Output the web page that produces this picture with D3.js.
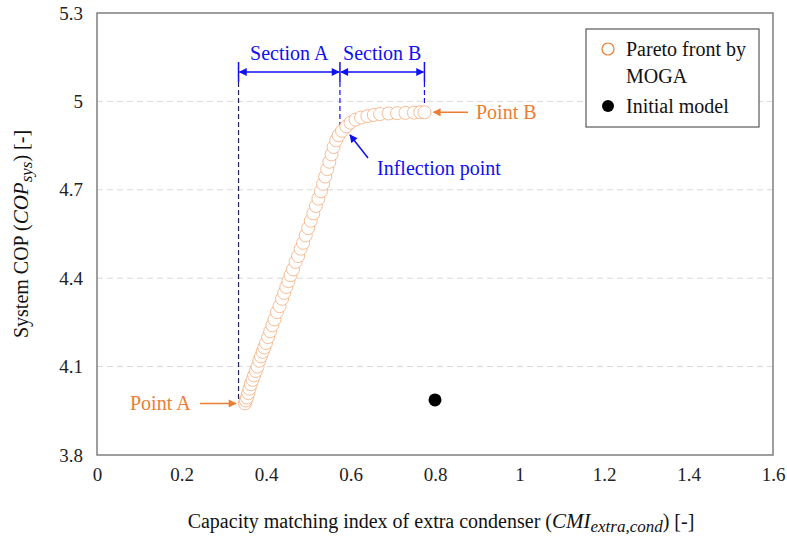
<!DOCTYPE html>
<html>
<head>
<meta charset="utf-8">
<script src="https://cdn.jsdelivr.net/npm/d3@7"></script>
<style>
  body { margin: 0; background: #fff; }
</style>
</head>
<body>
<div id="chart"></div>
<script>
// Pareto front (CMI_extra,cond, COP_sys)
const paretoX = [0.350, 0.352, 0.355, 0.358, 0.361, 0.364, 0.368, 0.372, 0.376, 0.380,
  0.384, 0.388, 0.392, 0.396, 0.400, 0.405, 0.410, 0.415, 0.420, 0.426,
  0.432, 0.438, 0.443, 0.448, 0.453, 0.458, 0.464, 0.470, 0.476, 0.482,
  0.488, 0.494, 0.500, 0.506, 0.512, 0.518, 0.524, 0.530, 0.535, 0.540,
  0.545, 0.550, 0.555, 0.560, 0.566, 0.572, 0.580, 0.590, 0.600, 0.612,
  0.625, 0.640, 0.655, 0.670, 0.690, 0.710, 0.730, 0.750, 0.765, 0.775];
const paretoY = [3.975, 3.985, 3.995, 4.010, 4.025, 4.040, 4.055, 4.070, 4.085, 4.100,
  4.120, 4.135, 4.150, 4.165, 4.180, 4.200, 4.220, 4.240, 4.260, 4.285,
  4.305, 4.330, 4.350, 4.370, 4.390, 4.410, 4.430, 4.455, 4.475, 4.500,
  4.520, 4.545, 4.570, 4.595, 4.620, 4.645, 4.670, 4.695, 4.720, 4.745,
  4.770, 4.795, 4.820, 4.845, 4.868, 4.885, 4.900, 4.915, 4.928, 4.938,
  4.945, 4.950, 4.954, 4.957, 4.959, 4.960, 4.961, 4.962, 4.963, 4.963];
const initialX = [0.80];
const initialY = [3.987];

const xTicks = [0, 0.2, 0.4, 0.6, 0.8, 1, 1.2, 1.4, 1.6];
const yTicks = [3.8, 4.1, 4.4, 4.7, 5, 5.3];
const sectionEdges = [0.335, 0.575, 0.775]; // Point A, inflection, Point B

const width = 787, height = 540;
const margin = { top: 13, right: 14, bottom: 85, left: 97 };
const serif = "'Liberation Serif', 'Times New Roman', serif";
const fs = 20;

const svg = d3.select("#chart").append("svg")
  .attr("width", width).attr("height", height)
  .attr("font-family", serif);

const x = d3.scaleLinear().domain([0, 1.6]).range([margin.left, width - margin.right]);
const y = d3.scaleLinear().domain([3.8, 5.3]).range([height - margin.bottom, margin.top]);

const orange = "#ED7D31";
const blue = "#1010f0";

// arrow markers
const defs = svg.append("defs");
function marker(id, color, w, h) {
  defs.append("marker")
    .attr("id", id).attr("viewBox", "0 0 10 10")
    .attr("refX", 9).attr("refY", 5)
    .attr("markerWidth", w).attr("markerHeight", h)
    .attr("markerUnits", "userSpaceOnUse")
    .attr("orient", "auto-start-reverse")
    .append("path").attr("d", "M0,0 L10,5 L0,10 z").attr("fill", color);
}
marker("arrBlue", blue, 9, 8);
marker("arrOrange", orange, 10, 8);

// gridlines
svg.append("g")
  .selectAll("line")
  .data(yTicks.filter(d => d > 3.8 && d < 5.3))
  .join("line")
  .attr("x1", x(0)).attr("x2", x(1.6))
  .attr("y1", d => y(d)).attr("y2", d => y(d))
  .attr("stroke", "#d9d9d9").attr("stroke-width", 1)
  .attr("stroke-dasharray", "6,4");

// axes
const xAxis = svg.append("g")
  .attr("transform", `translate(0,${height - margin.bottom})`)
  .call(d3.axisBottom(x).tickValues(xTicks).tickSize(0).tickPadding(13).tickFormat(d3.format("")));
const yAxis = svg.append("g")
  .attr("transform", `translate(${margin.left},0)`)
  .call(d3.axisLeft(y).tickValues(yTicks).tickSize(0).tickPadding(14).tickFormat(d3.format("")));
[xAxis, yAxis].forEach(a => {
  a.attr("font-family", serif).attr("font-size", 19);
  a.select(".domain").remove();
  a.selectAll("text").attr("fill", "#222");
});

// plot frame
svg.append("rect")
  .attr("x", x(0)).attr("y", y(5.3))
  .attr("width", x(1.6) - x(0)).attr("height", y(3.8) - y(5.3))
  .attr("fill", "none").attr("stroke", "#7f7f7f").attr("stroke-width", 1.5);

// section guides
const bracketY = 72;
const guideEnds = [3.99, 4.91, 4.975];
sectionEdges.forEach((v, i) => {
  svg.append("line")
    .attr("x1", x(v)).attr("x2", x(v))
    .attr("y1", bracketY + 10).attr("y2", y(guideEnds[i]))
    .attr("stroke", i === 0 ? "#202060" : blue).attr("stroke-width", 1.2)
    .attr("stroke-dasharray", "5,3");
  svg.append("line")
    .attr("x1", x(v)).attr("x2", x(v))
    .attr("y1", bracketY - 10).attr("y2", bracketY + 10)
    .attr("stroke", blue).attr("stroke-width", 1.5);
});
[[sectionEdges[0], sectionEdges[1]], [sectionEdges[1], sectionEdges[2]]].forEach(([a, b]) => {
  svg.append("line")
    .attr("x1", x(a) + 1).attr("x2", x(b) - 1)
    .attr("y1", bracketY).attr("y2", bracketY)
    .attr("stroke", blue).attr("stroke-width", 1.5)
    .attr("marker-start", "url(#arrBlue)").attr("marker-end", "url(#arrBlue)");
});
svg.append("text")
  .attr("x", (x(sectionEdges[0]) + x(sectionEdges[1])) / 2).attr("y", 60)
  .attr("text-anchor", "middle").attr("font-size", fs).attr("fill", blue)
  .text("Section A");
svg.append("text")
  .attr("x", (x(sectionEdges[1]) + x(sectionEdges[2])) / 2).attr("y", 60)
  .attr("text-anchor", "middle").attr("font-size", fs).attr("fill", blue)
  .text("Section B");

// Pareto front
svg.append("g")
  .selectAll("circle")
  .data(paretoX.map((d, i) => [d, paretoY[i]]))
  .join("circle")
  .attr("cx", d => x(d[0])).attr("cy", d => y(d[1]))
  .attr("r", 6.5)
  .attr("fill", "#fff")
  .attr("stroke", orange).attr("stroke-opacity", 0.5).attr("stroke-width", 1);

// initial model
svg.append("g")
  .selectAll("circle")
  .data(initialX.map((d, i) => [d, initialY[i]]))
  .join("circle")
  .attr("cx", d => x(d[0])).attr("cy", d => y(d[1]))
  .attr("r", 6.5).attr("fill", "#000");

// annotations
svg.append("line")
  .attr("x1", 368).attr("y1", 158).attr("x2", 350).attr("y2", 135)
  .attr("stroke", blue).attr("stroke-width", 1.5).attr("marker-end", "url(#arrBlue)");
svg.append("text")
  .attr("x", 377).attr("y", 175).attr("font-size", fs).attr("fill", blue)
  .text("Inflection point");

svg.append("line")
  .attr("x1", 468).attr("y1", y(4.963)).attr("x2", x(0.775) + 9).attr("y2", y(4.963))
  .attr("stroke", orange).attr("stroke-width", 1.5).attr("marker-end", "url(#arrOrange)");
svg.append("text")
  .attr("x", 476).attr("y", y(4.963) + 7).attr("font-size", fs).attr("fill", orange)
  .text("Point B");

svg.append("line")
  .attr("x1", 200).attr("y1", y(3.975)).attr("x2", x(0.350) - 9).attr("y2", y(3.975))
  .attr("stroke", orange).attr("stroke-width", 1.5).attr("marker-end", "url(#arrOrange)");
svg.append("text")
  .attr("x", 130).attr("y", y(3.975) + 7).attr("font-size", fs).attr("fill", orange)
  .text("Point A");

// legend
const legend = svg.append("g").attr("transform", "translate(586,29)");
legend.append("rect")
  .attr("width", 173).attr("height", 98)
  .attr("fill", "#fff").attr("stroke", "#595959").attr("stroke-width", 1.2);
legend.append("circle").attr("cx", 22).attr("cy", 20).attr("r", 6)
  .attr("fill", "#fff").attr("stroke", orange).attr("stroke-width", 1.2);
legend.append("text").attr("x", 40).attr("y", 27).attr("font-size", fs).attr("fill", "#111")
  .text("Pareto front by");
legend.append("text").attr("x", 40).attr("y", 54).attr("font-size", fs).attr("fill", "#111")
  .text("MOGA");
legend.append("circle").attr("cx", 22).attr("cy", 77).attr("r", 6).attr("fill", "#000");
legend.append("text").attr("x", 40).attr("y", 84).attr("font-size", fs).attr("fill", "#111")
  .text("Initial model");

// axis titles
const xt = svg.append("text")
  .attr("x", 441).attr("y", 528)
  .attr("text-anchor", "middle").attr("font-size", fs).attr("fill", "#111");
xt.append("tspan").text("Capacity matching index of extra condenser (");
xt.append("tspan").attr("font-style", "italic").attr("font-size", 21).text("CMI");
xt.append("tspan").attr("font-style", "italic").attr("font-size", 17).attr("dy", 4).text("extra,cond");
xt.append("tspan").attr("dy", -4).text(") [-]");

const yt = svg.append("text")
  .attr("transform", `translate(28,${(y(3.8) + y(5.3)) / 2}) rotate(-90)`)
  .attr("text-anchor", "middle").attr("font-size", fs).attr("fill", "#111");
yt.append("tspan").text("System COP (");
yt.append("tspan").attr("font-style", "italic").attr("font-size", 21).text("COP");
yt.append("tspan").attr("font-style", "italic").attr("font-size", 17).attr("dy", 4).text("sys");
yt.append("tspan").attr("dy", -4).text(") [-]");
</script>
</body>
</html>
